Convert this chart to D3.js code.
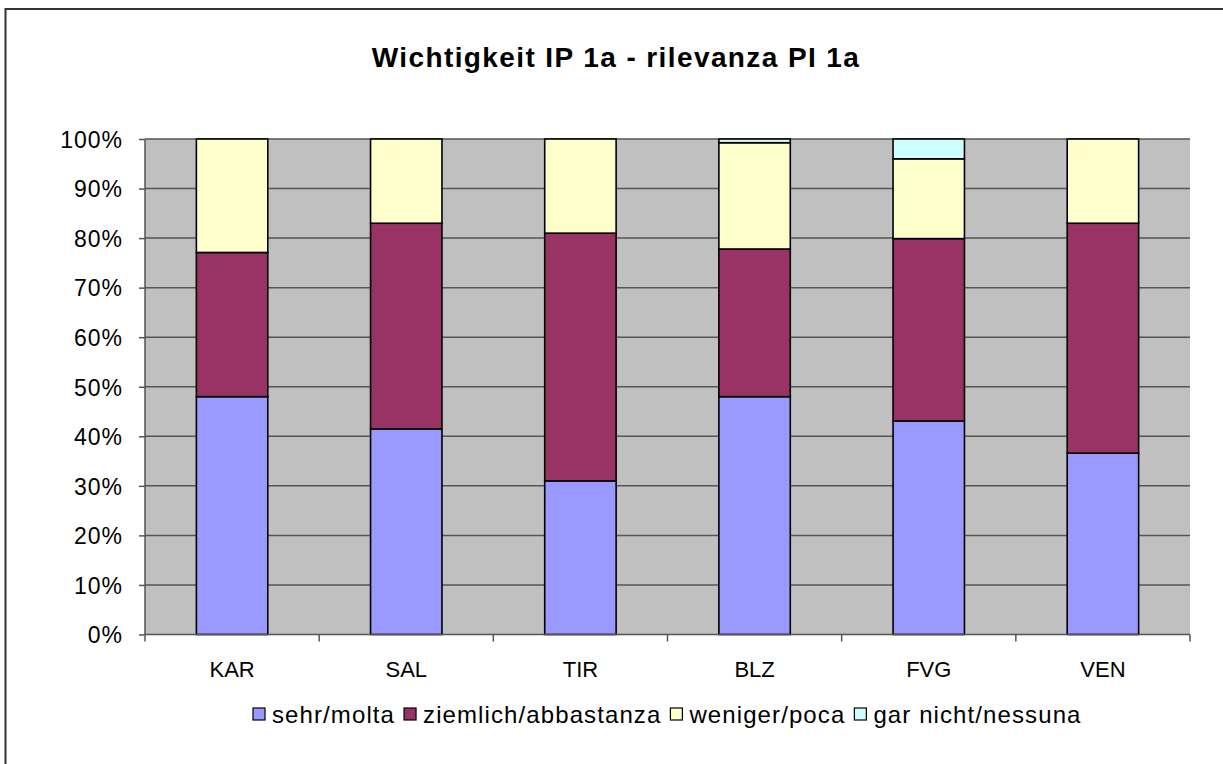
<!DOCTYPE html>
<html><head><meta charset="utf-8">
<script src="https://cdn.jsdelivr.net/npm/d3@7"></script>
<style>html,body{margin:0;padding:0;background:#fff;}svg{display:block;}</style>
</head><body>
<svg id="c" width="1223" height="764"></svg>
<script>
const categories = ["KAR","SAL","TIR","BLZ","FVG","VEN"];
const seriesNames = ["sehr/molta","ziemlich/abbastanza","weniger/poca","gar nicht/nessuna"];
const sehr     = [48, 41.5, 31, 48, 43.1, 36.6];
const ziemlich = [29.1, 41.5, 50, 29.8, 36.8, 46.4];
const weniger  = [22.9, 17, 19, 21.45, 16.1, 17];
const garNicht = [0, 0, 0, 0.75, 4, 0];
const yTicks = [0,10,20,30,40,50,60,70,80,90,100];
const colors = ["#9999ff","#993366","#ffffcc","#ccffff"];
const title = "Wichtigkeit IP 1a - rilevanza PI 1a";

const svg = d3.select("#c");
const font = "Liberation Sans, Arial, sans-serif";

// outer border
svg.append("rect").attr("x",5.5).attr("y",9).attr("width",1230).attr("height",770)
  .attr("fill","#fff").attr("stroke","#333").attr("stroke-width",2);

const L=145, R=1190, T=139, B=634.5;
const x = d3.scaleBand().domain(categories).range([L,R]).paddingInner(0.59).paddingOuter(0.295);
const y = d3.scaleLinear().domain([0,100]).range([B,T]);

svg.append("rect").attr("x",L).attr("y",T).attr("width",R-L).attr("height",B-T).attr("fill","#c0c0c0");

// gridlines
svg.append("g").selectAll("line").data(yTicks.filter(d=>d>0)).join("line")
  .attr("x1",L).attr("x2",R).attr("y1",d=>y(d)).attr("y2",d=>y(d))
  .attr("stroke","#555").attr("stroke-width",1.5);

// stacked data
const table = categories.map((c,i)=>({cat:c, s0:sehr[i], s1:ziemlich[i], s2:weniger[i], s3:garNicht[i]}));
const stack = d3.stack().keys(["s0","s1","s2","s3"])(table);
const gBars = svg.append("g");
stack.forEach((layer,k)=>{
  gBars.selectAll(null).data(layer.filter(d=>d[1]-d[0]>0)).join("rect")
    .attr("x",d=>x(d.data.cat)).attr("width",x.bandwidth())
    .attr("y",d=>y(d[1])).attr("height",d=>y(d[0])-y(d[1]))
    .attr("fill",colors[k]).attr("stroke","#000").attr("stroke-width",1.6);
});

// y axis
const yAxis = d3.axisLeft(y).tickValues(yTicks).tickFormat(d=>d+"%").tickSize(6).tickPadding(16);
const gy = svg.append("g").attr("transform",`translate(${L},0)`).call(yAxis);
gy.select(".domain").attr("stroke","#555").attr("stroke-width",1.5).attr("d",`M0,${T}V${B}`);
gy.selectAll(".tick line").attr("stroke","#555").attr("stroke-width",1.5);
gy.selectAll("text").attr("font-family",font).attr("font-size","23px").attr("letter-spacing","1px")
  .attr("fill","#000").attr("dy","0.36em");

// x axis
const xAxis = d3.axisBottom(x).tickSize(0).tickPadding(27);
const gx = svg.append("g").attr("transform",`translate(0,${B})`).call(xAxis);
gx.select(".domain").attr("stroke","#555").attr("stroke-width",1.5).attr("d",`M${L},0H${R}`);
gx.selectAll("text").attr("font-family",font).attr("font-size","22px").attr("fill","#000");
const step = x.step();
gx.selectAll(null).data(d3.range(categories.length+1)).join("line")
  .attr("x1",i=>L+i*step).attr("x2",i=>L+i*step).attr("y1",0).attr("y2",7)
  .attr("stroke","#555").attr("stroke-width",1.5);

// title
svg.append("text").attr("x",616).attr("y",67).attr("text-anchor","middle")
  .attr("font-family",font).attr("font-weight","bold").attr("font-size","28px")
  .attr("letter-spacing","1.4px").text(title);

// legend
const lg = svg.append("g").attr("transform","translate(253,714)");
let lx = 0;
seriesNames.forEach((n,i)=>{
  const g = lg.append("g").attr("transform",`translate(${lx},0)`);
  g.append("rect").attr("x",0).attr("y",-6).attr("width",12).attr("height",12)
    .attr("fill",colors[i]).attr("stroke","#000").attr("stroke-width",1.2);
  const t = g.append("text").attr("x",19).attr("y",1).attr("dy","0.35em")
    .attr("font-family",font).attr("font-size","24px").attr("letter-spacing","1.1px").text(n);
  lx += 19 + t.node().getComputedTextLength() + 9;
});
</script>
</body></html>
